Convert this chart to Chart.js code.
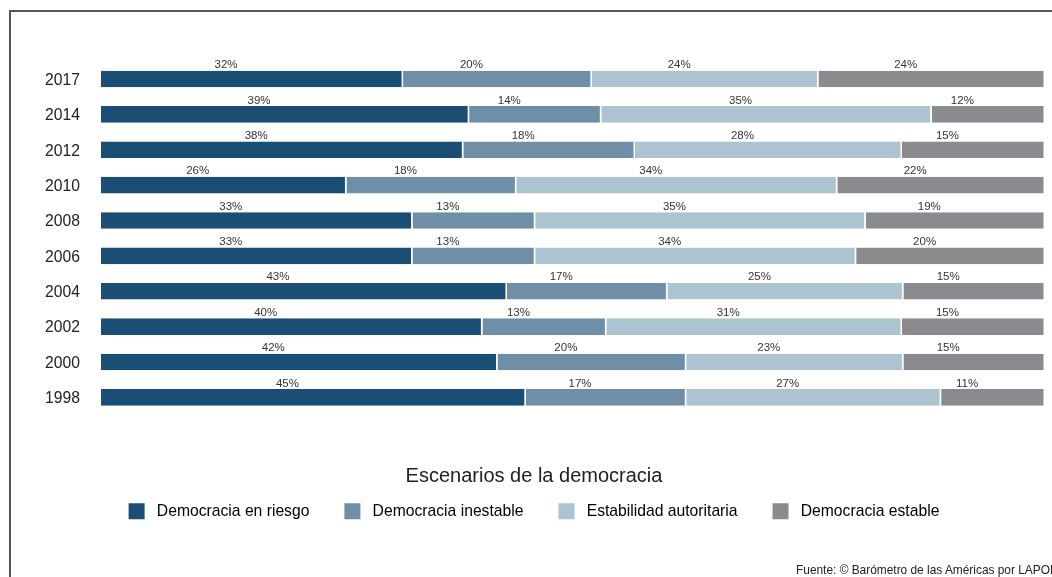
<!DOCTYPE html>
<html lang="es">
<head>
<meta charset="utf-8">
<title>Escenarios de la democracia</title>
<script src="https://cdn.jsdelivr.net/npm/chart.js@4.4.1/dist/chart.umd.min.js"></script>
<style>
  html, body { margin: 0; padding: 0; background: #fff; }
  body { width: 1052px; height: 577px; overflow: hidden; position: relative; font-family: 'Liberation Sans', Arial, Helvetica, sans-serif; }
  #frame { position: absolute; left: 9px; top: 10px; width: 1100px; height: 600px; border-top: 2px solid #555; border-left: 2px solid #555; }
  #chartBox { position: absolute; left: 0; top: 0; width: 1052px; height: 577px; }
  #fuente { position: absolute; left: 796px; top: 563px; font-size: 11.9px; color: #222; white-space: nowrap; }
</style>
</head>
<body>
<div id="frame"></div>
<div id="chartBox"><canvas id="barChart" width="1052" height="577"></canvas></div>
<div id="fuente">Fuente: © Barómetro de las Américas por LAPOP</div>

<script>
const years = ['2017', '2014', '2012', '2010', '2008', '2006', '2004', '2002', '2000', '1998'];

const enRiesgo    = [32, 39, 38, 26, 33, 33, 43, 40, 42, 45];
const inestable   = [20, 14, 18, 18, 13, 13, 17, 13, 20, 17];
const autoritaria = [24, 35, 28, 34, 35, 34, 25, 31, 23, 27];
const estable     = [24, 12, 15, 22, 19, 20, 15, 15, 15, 11];

const seriesNames  = ['Democracia en riesgo', 'Democracia inestable', 'Estabilidad autoritaria', 'Democracia estable'];
const seriesColors = ['#1b4e75', '#6f8ea8', '#adc3d0', '#8a8b8f'];
const seriesValues = [enRiesgo, inestable, autoritaria, estable];

const FONT = "'Liberation Sans', Arial, Helvetica, sans-serif";

// each row is shown as share of its own total, so every bar fills the width
const rowTotals = years.map((y, i) => seriesValues.reduce((s, arr) => s + arr[i], 0));

const datasets = seriesValues.map((vals, k) => ({
  label: seriesNames[k],
  data: vals.map((v, i) => v / rowTotals[i] * 100),
  raw: vals,
  backgroundColor: seriesColors[k],
  borderColor: '#ffffff',
  borderWidth: { top: 0, bottom: 0, left: 0, right: 1.5 },
  borderSkipped: false,
  barPercentage: 0.47,
  categoryPercentage: 1
}));

// percentage text above every segment
const segmentLabels = {
  id: 'segmentLabels',
  afterDatasetsDraw(chart) {
    const ctx = chart.ctx;
    ctx.save();
    ctx.font = '11.5px ' + FONT;
    ctx.fillStyle = '#333';
    ctx.textAlign = 'center';
    ctx.textBaseline = 'alphabetic';
    chart.data.datasets.forEach((ds, k) => {
      const meta = chart.getDatasetMeta(k);
      meta.data.forEach((el, i) => {
        const p = el.getProps(['x', 'base', 'y', 'height'], true);
        const cx = (p.x + p.base) / 2 - 26;
        const ty = p.y - p.height / 2 - 2.5;
        ctx.fillText(ds.raw[i] + '%', cx, ty);
      });
    });
    ctx.restore();
  }
};

const ctx = document.getElementById('barChart').getContext('2d');
new Chart(ctx, {
  type: 'bar',
  data: { labels: years, datasets: datasets },
  options: {
    indexAxis: 'y',
    responsive: false,
    animation: false,
    layout: { padding: { top: 61.3, left: 23, right: 7, bottom: 47.7 } },
    scales: {
      x: { stacked: true, min: 0, max: 100, display: false },
      y: {
        stacked: true,
        grid: { display: false, drawTicks: false },
        border: { display: false },
        ticks: { color: '#222', padding: 21, labelOffset: 1.5, font: { family: FONT, size: 15.7 } },
        afterFit(scale) { scale.width = 78; }
      }
    },
    plugins: {
      tooltip: { enabled: false },
      title: {
        display: true,
        text: 'Escenarios de la democracia',
        position: 'bottom',
        weight: 500,
        color: '#222',
        font: { family: FONT, size: 20, weight: 'normal' },
        padding: { top: 49.5, bottom: -20.2 }
      },
      legend: {
        position: 'bottom',
        labels: {
          boxWidth: 16,
          boxHeight: 16,
          padding: 35,
          color: '#222',
          font: { family: FONT, size: 15.7 },
          generateLabels(chart) {
            return chart.data.datasets.map((ds, k) => ({
              text: ' ' + ds.label,
              fillStyle: ds.backgroundColor,
              strokeStyle: ds.backgroundColor,
              lineWidth: 0,
              datasetIndex: k
            }));
          }
        }
      }
    }
  },
  plugins: [segmentLabels]
});
</script>
</body>
</html>
